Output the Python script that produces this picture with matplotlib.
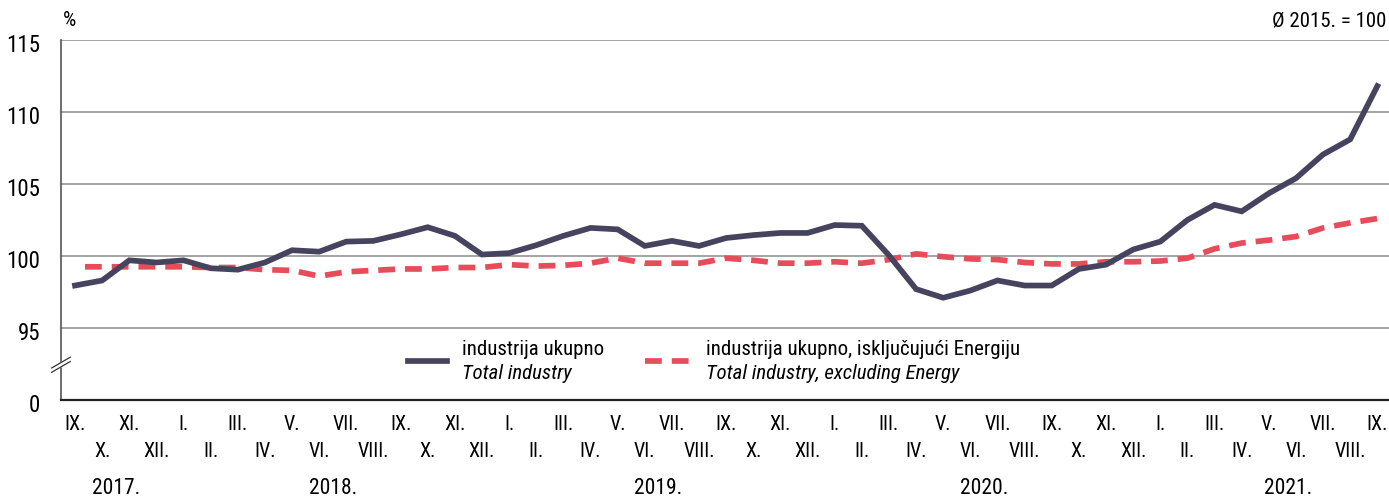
import matplotlib
matplotlib.use("Agg")
import matplotlib.pyplot as plt
from matplotlib import transforms

# months IX.2017 .. IX.2021
month_labels = [
    "IX.", "X.", "XI.", "XII.",
    "I.", "II.", "III.", "IV.", "V.", "VI.", "VII.", "VIII.", "IX.", "X.", "XI.", "XII.",
    "I.", "II.", "III.", "IV.", "V.", "VI.", "VII.", "VIII.", "IX.", "X.", "XI.", "XII.",
    "I.", "II.", "III.", "IV.", "V.", "VI.", "VII.", "VIII.", "IX.", "X.", "XI.", "XII.",
    "I.", "II.", "III.", "IV.", "V.", "VI.", "VII.", "VIII.", "IX.",
]
years = ["2017.", "2018.", "2019.", "2020.", "2021."]
year_centers = [1.5, 9.5, 21.5, 33.5, 44.7]

total_industry = [
    97.95, 98.3, 99.7, 99.55, 99.7, 99.15, 99.05, 99.55, 100.4, 100.3,
    101.0, 101.05, 101.5, 102.0, 101.4, 100.1, 100.2, 100.75, 101.4, 101.95,
    101.85, 100.7, 101.05, 100.7, 101.25, 101.45, 101.6, 101.6, 102.15, 102.1,
    100.05, 97.7, 97.1, 97.6, 98.3, 97.95, 97.95, 99.1, 99.4, 100.45,
    101.0, 102.5, 103.55, 103.1, 104.35, 105.4, 107.05, 108.1, 111.8,
]
excl_energy = [
    99.25, 99.25, 99.25, 99.25, 99.25, 99.2, 99.2, 99.05, 99.0, 98.6,
    98.9, 99.0, 99.1, 99.1, 99.2, 99.2, 99.4, 99.3, 99.35, 99.5,
    99.85, 99.5, 99.5, 99.5, 99.85, 99.7, 99.5, 99.5, 99.6, 99.5,
    99.75, 100.15, 99.95, 99.8, 99.75, 99.55, 99.45, 99.45, 99.6, 99.6,
    99.65, 99.85, 100.5, 100.9, 101.1, 101.35, 101.95, 102.3, 102.6,
]

y_ticks = [90, 95, 100, 105, 110, 115]
y_tick_labels = ["0", "95", "100", "105", "110", "115"]

DARK = "#46435f"
RED = "#e84c5a"
DASH = (2.95, 1.75)

plt.rcParams["font.family"] = ["Roboto Condensed", "DejaVu Sans"]
plt.rcParams["font.stretch"] = "condensed"

fig = plt.figure(figsize=(13.89, 4.97), dpi=100)
ax = fig.add_axes([61 / 1389, 1 - 400 / 497, 1328 / 1389, 360 / 497])

x = list(range(len(month_labels)))

ax.plot(x, excl_energy, color=RED, lw=4.1,
        linestyle=(2.95, DASH), zorder=3)
ax.plot(x, total_industry, color=DARK, lw=4.1, zorder=4,
        solid_joinstyle="miter")

ax.set_xlim(-0.516, 48.43)
ax.set_ylim(90, 115)

for lvl in y_ticks[1:]:
    ax.axhline(lvl, color="#8a8a8a", lw=1.1, zorder=1)

ax.set_yticks(y_ticks)
ax.set_yticklabels(y_tick_labels, fontsize=16.5)
ax.tick_params(axis="y", length=0, pad=15)
shift = transforms.ScaledTranslation(0, -3 / 100, fig.dpi_scale_trans)
for lab in ax.get_yticklabels():
    lab.set_transform(lab.get_transform() + shift)

ax.set_xticks(x[::2])
ax.set_xticklabels(month_labels[::2], fontsize=14.5)
ax.set_xticks(x[1::2], minor=True)
ax.set_xticklabels(month_labels[1::2], minor=True, fontsize=14.5)
ax.tick_params(axis="x", which="major", length=0, pad=11)
ax.tick_params(axis="x", which="minor", length=0, pad=30)

for yr, xc in zip(years, year_centers):
    ax.text(xc, -0.245, yr, transform=ax.get_xaxis_transform(),
            ha="center", va="center", fontsize=15.5)

for side in ["top", "right"]:
    ax.spines[side].set_visible(False)
ax.spines["left"].set_color("#555555")
ax.spines["left"].set_linewidth(1.2)
ax.spines["bottom"].set_color("#222222")
ax.spines["bottom"].set_linewidth(1.6)

# axis break mark
ax.plot([-0.012, 0.012], [0.083, 0.113], color="white", lw=4,
        transform=ax.transAxes, clip_on=False, zorder=5)
for dy in (-0.006, 0.006):
    ax.plot([-0.007, 0.007], [0.083 + dy, 0.113 + dy],
            color="#333333", lw=0.9, transform=ax.transAxes,
            clip_on=False, zorder=6)

# legend
ax.plot([0.261, 0.291], [0.107, 0.107], color=DARK, lw=4.1,
        transform=ax.transAxes, clip_on=False)
ax.plot([0.440, 0.473], [0.107, 0.107], color=RED, lw=4.1,
        linestyle=(0, DASH), transform=ax.transAxes, clip_on=False)
ax.text(0.302, 0.141, "industrija ukupno", transform=ax.transAxes,
        ha="left", va="center", fontsize=15)
ax.text(0.302, 0.073, "Total industry", transform=ax.transAxes,
        ha="left", va="center", fontsize=15, style="italic")
ax.text(0.486, 0.141, "industrija ukupno, isključujući Energiju",
        transform=ax.transAxes, ha="left", va="center", fontsize=15)
ax.text(0.486, 0.073, "Total industry, excluding Energy",
        transform=ax.transAxes, ha="left", va="center", fontsize=15,
        style="italic")

fig.text(63 / 1389, 1 - 20 / 497, "%", ha="left", va="center", fontsize=15)
fig.text(1386 / 1389, 1 - 21 / 497, "Ø 2015. = 100", ha="right",
         va="center", fontsize=15)

fig.savefig("out.png", dpi=100)
